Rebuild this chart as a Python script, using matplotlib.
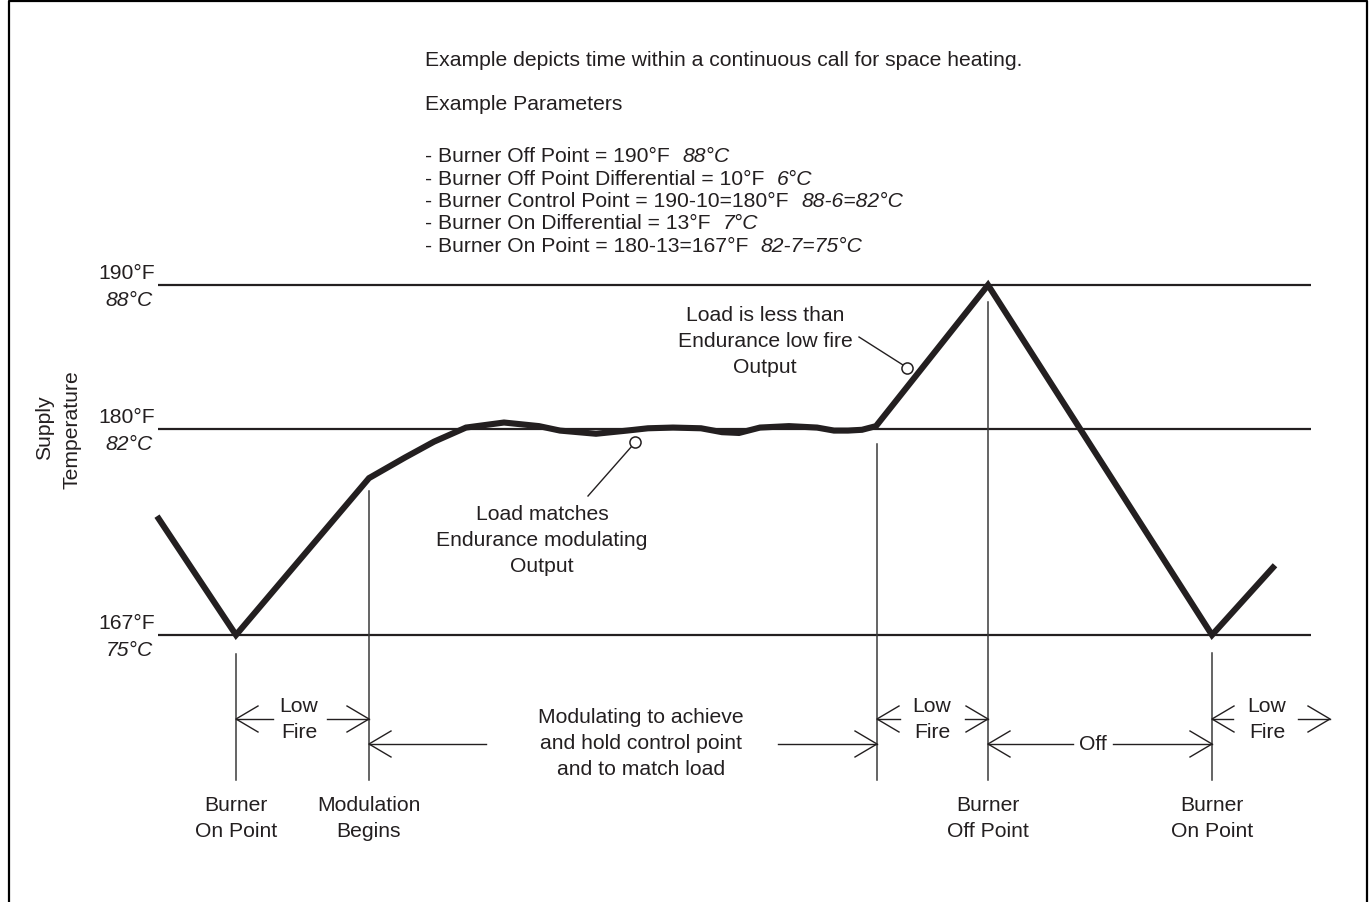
import numpy as np
import matplotlib
matplotlib.use("Agg")
import matplotlib.pyplot as plt

plt.rcParams['font.family'] = ['Liberation Sans', 'DejaVu Sans']
INK = '#231f20'
FS = 15.2

# Temperature levels (schematic, not to scale)
levels_f = [190, 180, 167]
levels_c = [88, 82, 75]

# Supply temperature trace: time (px units along the diagram) vs °F
curve_t = [157, 236, 369, 405, 434, 466, 504, 539, 560, 596, 627, 648, 673,
           701, 722, 739, 760, 789, 817, 834, 848, 862, 876, 988, 1212, 1275]
curve_f = [174.5, 167.0, 176.9, 178.2, 179.2, 180.1, 180.45, 180.2, 179.9,
           179.7, 179.9, 180.05, 180.1, 180.05, 179.8, 179.75, 180.1, 180.2,
           180.1, 179.9, 179.9, 179.95, 180.2, 190.0, 167.0, 171.4]

# Event times
t_on1, t_mod, t_lowfire2, t_off, t_on2 = 236, 369, 877, 988, 1212

header = "Example depicts time within a continuous call for space heating."
params_title = "Example Parameters"
params = [("- Burner Off Point = 190°F", "88°C"),
          ("- Burner Off Point Differential = 10°F", "6°C"),
          ("- Burner Control Point = 190-10=180°F", "88-6=82°C"),
          ("- Burner On Differential = 13°F", "7°C"),
          ("- Burner On Point = 180-13=167°F", "82-7=75°C")]


# schematic temperature scale: different px per degree below/above 180°F
def fwd(T):
    T = np.asarray(T, dtype=float)
    py = np.where(T < 180, 430 + (180 - T) * 206 / 13, 430 - (T - 180) * 14.4)
    return -py


def inv(v):
    py = -np.asarray(v, dtype=float)
    return np.where(py > 430, 180 - (py - 430) * 13 / 206, 180 + (430 - py) / 14.4)


fig = plt.figure(figsize=(13.71, 9.03), dpi=100)
ax = fig.add_axes([0, 0, 1, 1])
ax.set_yscale('function', functions=(fwd, inv))
ax.set_xlim(0, 1371)
ax.set_ylim(inv(-903), inv(0))
ax.axis('off')

# overlay in pixel coordinates for labels and dimension arrows
lay = fig.add_axes([0, 0, 1, 1])
lay.set_xlim(0, 1371)
lay.set_ylim(903, 0)
lay.axis('off')
lay.patch.set_alpha(0)

# frame
lay.plot([8.5, 8.5, 1366.5, 1366.5], [903, 1.5, 1.5, 903], color='black', lw=1.6)

# level lines and labels
for tf, tc in zip(levels_f, levels_c):
    ax.plot([158, 1311], [tf, tf], color=INK, lw=1.6, solid_capstyle='butt')
    py = -fwd(tf)
    lay.text(155, py - 12, f"{tf}°F", ha='right', va='center', fontsize=FS, color=INK)
    lay.text(153, py + 15, f"{tc}°C", ha='right', va='center', fontsize=FS,
             color=INK, style='italic')

lay.text(45, 428, "Supply", rotation=90, ha='center', va='center', fontsize=FS, color=INK)
lay.text(72, 430, "Temperature", rotation=90, ha='center', va='center', fontsize=FS, color=INK)

# temperature trace
ax.plot(curve_t, curve_f, color=INK, lw=4.4, solid_joinstyle='miter', solid_capstyle='butt')

# vertical event lines
for x, y0 in [(t_on1, 655), (t_mod, 492), (t_lowfire2, 445), (t_off, 303), (t_on2, 654)]:
    lay.plot([x, x], [y0, 781], color='#3a3a3a', lw=1.1)


def arrow(x0, x1, y):
    # shaft from x0 to tip at x1 with open chevron head
    lay.plot([x0, x1], [y, y], color=INK, lw=1.0)
    d = 1 if x1 > x0 else -1
    lay.plot([x1 - d * 22, x1, x1 - d * 22], [y - 13, y, y + 13], color=INK, lw=1.0)


def lines(x, y0, strs, dy=26):
    for i, s in enumerate(strs):
        lay.text(x, y0 + i * dy, s, ha='center', va='center', fontsize=FS, color=INK)


# Low Fire (1)
arrow(273, t_on1, 720)
arrow(327, t_mod, 720)
lines(299, 707, ["Low", "Fire"])
# Modulating
arrow(486, t_mod, 745)
arrow(778, t_lowfire2, 745)
lines(641, 718, ["Modulating to achieve", "and hold control point", "and to match load"])
# Low Fire (2)
arrow(900, t_lowfire2, 720)
arrow(965, t_off, 720)
lines(932, 707, ["Low", "Fire"])
# Off
arrow(1073, t_off, 745)
arrow(1113, t_on2, 745)
lay.text(1093, 745, "Off", ha='center', va='center', fontsize=FS, color=INK)
# Low Fire (3)
arrow(1233, t_on2, 720)
arrow(1298, 1330, 720)
lines(1267, 707, ["Low", "Fire"])

# bottom event labels
lines(t_on1, 806, ["Burner", "On Point"])
lines(t_mod, 806, ["Modulation", "Begins"])
lines(t_off, 806, ["Burner", "Off Point"])
lines(t_on2, 806, ["Burner", "On Point"])

# callouts
lines(765, 316, ["Load is less than", "Endurance low fire", "Output"])
lay.plot([859, 903], [338, 366], color=INK, lw=1.0)
lay.plot([907], [369], marker='o', ms=8, mfc='white', mec=INK, mew=1.1)

lines(542, 515, ["Load matches", "Endurance modulating", "Output"])
lay.plot([588, 632], [497, 447], color=INK, lw=1.0)
lay.plot([635], [443], marker='o', ms=8, mfc='white', mec=INK, mew=1.1)

# header text
lay.text(425, 61, header, ha='left', va='center', fontsize=FS, color=INK)
lay.text(425, 104, params_title, ha='left', va='center', fontsize=FS, color=INK)
for i, (normal, ital) in enumerate(params):
    t = lay.text(425, 157 + i * 22.3, normal, ha='left', va='center', fontsize=FS, color=INK)
    lay.annotate(ital, xy=(1, 0.5), xycoords=t, xytext=(9, 0), textcoords='offset points',
                 ha='left', va='center', fontsize=FS, color=INK, style='italic')

fig.savefig("out.png", dpi=100, facecolor='white')
